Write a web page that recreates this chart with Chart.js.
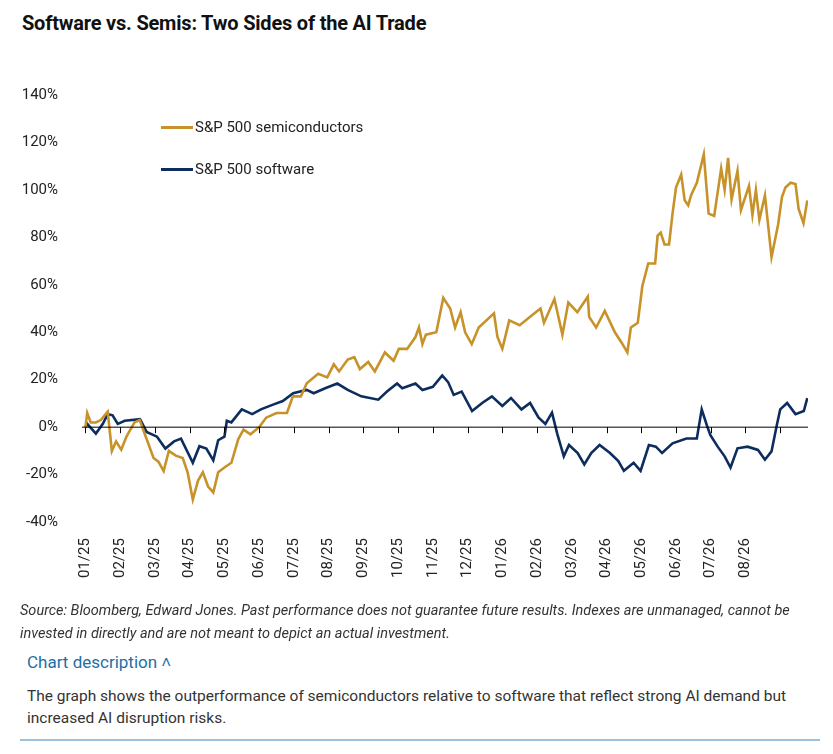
<!DOCTYPE html>
<html>
<head>
<meta charset="utf-8">
<script src="https://cdn.jsdelivr.net/npm/chart.js@4"></script>
<style>
  body { margin: 0; background: #fff; font-family: Roboto, "Open Sans", sans-serif; width: 833px; height: 754px; position: relative; overflow: hidden; }
  #title { position: absolute; left: 22px; top: 11px; font-size: 20px; font-weight: bold; color: #111; font-family: Roboto, sans-serif; letter-spacing: -0.2px; }
  #wrap { position: absolute; left: 18px; top: 70px; width: 790px; height: 530px; }
  .leg { position: absolute; left: 143px; font-size: 15px; color: #222; display: flex; align-items: center; }
  .leg span { display: inline-block; width: 32px; height: 3px; margin-right: 2px; }
  #source { position: absolute; left: 20px; top: 599px; width: 780px; font-size: 14.5px; font-style: italic; color: #333; line-height: 23px; }
  #desc-h { position: absolute; left: 27px; top: 652px; font-size: 17px; color: #1d6fa5; }
  #desc { position: absolute; left: 27px; top: 685px; width: 770px; font-size: 15.5px; color: #333; line-height: 22px; }
  #rule { position: absolute; left: 20px; top: 739px; width: 800px; height: 2px; background: #9cc3de; }
</style>
</head>
<body>
<div id="title">Software vs. Semis: Two Sides of the AI Trade</div>
<div id="wrap"><canvas id="c"></canvas>
  <div class="leg" style="top:48px"><span style="background:#c8922a"></span>S&amp;P 500 semiconductors</div>
  <div class="leg" style="top:90px"><span style="background:#0d2d5e"></span>S&amp;P 500 software</div>
</div>
<div id="source">Source: Bloomberg, Edward Jones. Past performance does not guarantee future results. Indexes are unmanaged, cannot be invested in directly and are not meant to depict an actual investment.</div>
<div id="desc-h">Chart description &#x2c4;</div>
<div id="desc">The graph shows the outperformance of semiconductors relative to software that reflect strong AI demand but increased AI disruption risks.</div>
<div id="rule"></div>
<script>
// x = months since start of Jan 2025
const semisMonths = [0,0.05,0.15,0.3,0.44,0.64,0.76,0.88,1.03,1.18,1.41,1.56,1.76,1.96,2.1,2.25,2.4,2.6,2.8,2.94,3.09,3.24,3.38,3.53,3.68,3.82,4.0,4.2,4.4,4.55,4.75,5.0,5.2,5.5,5.8,5.97,6.2,6.37,6.7,6.96,7.15,7.3,7.55,7.74,7.9,8.14,8.33,8.62,8.87,9.02,9.26,9.5,9.6,9.7,9.8,10.1,10.3,10.5,10.64,10.8,10.93,11.12,11.32,11.76,11.86,12.0,12.2,12.5,12.8,13.1,13.2,13.5,13.73,13.9,14.16,14.46,14.5,14.7,14.95,15.24,15.44,15.6,15.7,15.9,16.03,16.2,16.4,16.47,16.56,16.67,16.8,16.9,17.0,17.15,17.25,17.35,17.44,17.6,17.8,17.94,18.1,18.3,18.4,18.5,18.6,18.77,18.87,19.1,19.2,19.3,19.4,19.56,19.75,19.94,20.05,20.15,20.3,20.44,20.53,20.67,20.78];
const semisValues = [0,6,2,2,3,6.5,-10,-6,-9.5,-4,2,3,-5,-13,-14.5,-18.5,-10,-12,-13,-19,-30.5,-22.5,-19,-25,-27.5,-19,-17,-15,-5,-1,-3,0,4,6,6,13,13,18.5,22.5,21,26.5,23.5,28.5,29.5,24.5,27.5,23.5,31.5,28,33,33,38,42,35,39,40,54.5,50,42,48.5,40,35,42,48,38,33,45,43,46.5,50,44,54,39,52.5,48.5,55,46.5,42,49,40,35.5,31.5,42,44,59.4,69,69,80.7,82,77,77,90,101,106.5,95.6,93.5,98,103,115,90,89,109,100,113.5,96,108,91.5,101.7,89.5,100,87.4,97.7,71.7,85.4,97,101,103,102.5,92,86,95.6];
const softMonths = [0,0.05,0.3,0.5,0.64,0.78,0.93,1.13,1.57,1.76,2.06,2.3,2.55,2.75,3.09,3.28,3.48,3.68,3.82,4.0,4.07,4.2,4.5,4.8,5.05,5.4,5.68,5.98,6.37,6.57,6.9,7.25,7.55,7.94,8.43,8.68,8.97,9.12,9.5,9.7,10.0,10.27,10.44,10.6,10.83,11.13,11.42,11.7,12.0,12.25,12.55,12.8,13.04,13.24,13.43,13.58,13.77,13.92,14.17,14.36,14.56,14.8,15.1,15.34,15.5,15.78,15.98,16.22,16.42,16.6,16.9,17.3,17.6,17.74,17.89,17.99,18.2,18.4,18.57,18.77,19.06,19.36,19.56,19.75,19.9,20.0,20.2,20.44,20.68,20.78];
const softValues = [0,1.4,-2.7,1.4,5.5,5,1.4,2.7,3.4,-2,-4,-9,-6,-4.8,-15,-8,-9,-14,-5.5,-4,2.7,2,7.5,5.5,7.5,9.5,11,14.3,15.7,14.3,16.4,18.4,15.7,13,11.6,15,18.4,16.4,18.4,15.7,17,21.8,19,13.6,15,6.8,10.2,13,8.9,12.3,7.5,10.2,4.1,1.4,6.1,-2.7,-12.3,-7.5,-10.9,-15.7,-10.9,-7.5,-10.9,-14.3,-18.4,-15,-18.4,-7.5,-8.2,-10.9,-6.8,-4.8,-4.8,7.5,0.7,-3.4,-8.2,-12.3,-17,-8.9,-8.2,-9.6,-13.7,-10.2,0.7,7.5,10.2,5.5,6.8,12.3];
const yTicks = [-40,-20,0,20,40,60,80,100,120,140];

const pts = (xs, ys) => xs.map((x, i) => ({ x, y: ys[i] }));

// zero line with month tick marks hanging below it
const zeroAxis = {
  id: "zeroAxis",
  afterDatasetsDraw(chart) {
    const { ctx, scales: { x, y }, chartArea } = chart;
    const y0 = y.getPixelForValue(0);
    ctx.save();
    ctx.strokeStyle = "#000";
    ctx.lineWidth = 1;
    ctx.beginPath();
    ctx.moveTo(chartArea.left, y0);
    ctx.lineTo(chartArea.right, y0);
    for (let m = 0; m <= 20; m++) {
      const px = Math.round(x.getPixelForValue(m)) + 0.5;
      ctx.moveTo(px, y0);
      ctx.lineTo(px, y0 + 6);
    }
    ctx.stroke();
    ctx.restore();
  }
};

new Chart(document.getElementById("c"), {
  type: "line",
  data: {
    datasets: [
      { label: "S&P 500 semiconductors", data: pts(semisMonths, semisValues), borderColor: "#c8922a", borderWidth: 2.6, pointRadius: 0, tension: 0 },
      { label: "S&P 500 software", data: pts(softMonths, softValues), borderColor: "#0d2d5e", borderWidth: 2.6, pointRadius: 0, tension: 0 }
    ]
  },
  options: {
    responsive: true, maintainAspectRatio: false, animation: false,
    layout: { padding: { top: 4, right: 0, bottom: 14 } },
    plugins: { legend: { display: false }, tooltip: { enabled: false } },
    scales: {
      x: {
        type: "linear", min: -0.1, max: 20.8,
        grid: { display: false }, border: { display: false },
        ticks: {
          stepSize: 1, autoSkip: false, minRotation: 90, maxRotation: 90, padding: 8,
          color: "#222", font: { size: 15, family: "Roboto, sans-serif" },
          callback: v => {
            if (!Number.isInteger(v) || v < 0 || v > 19) return "";
            const mm = String((v % 12) + 1).padStart(2, "0");
            return mm + "/" + (25 + Math.floor(v / 12));
          }
        },
        afterBuildTicks: s => { s.ticks = Array.from({ length: 20 }, (_, i) => ({ value: i })); }
      },
      y: {
        min: -40, max: 140,
        grid: { display: false }, border: { display: false },
        afterFit: s => { s.width = 64; },
        afterBuildTicks: s => { s.ticks = yTicks.map(v => ({ value: v })); },
        ticks: { color: "#222", font: { size: 15, family: "Roboto, sans-serif" }, padding: 16, callback: v => v + "%" }
      }
    }
  },
  plugins: [zeroAxis]
});
</script>
</body>
</html>
